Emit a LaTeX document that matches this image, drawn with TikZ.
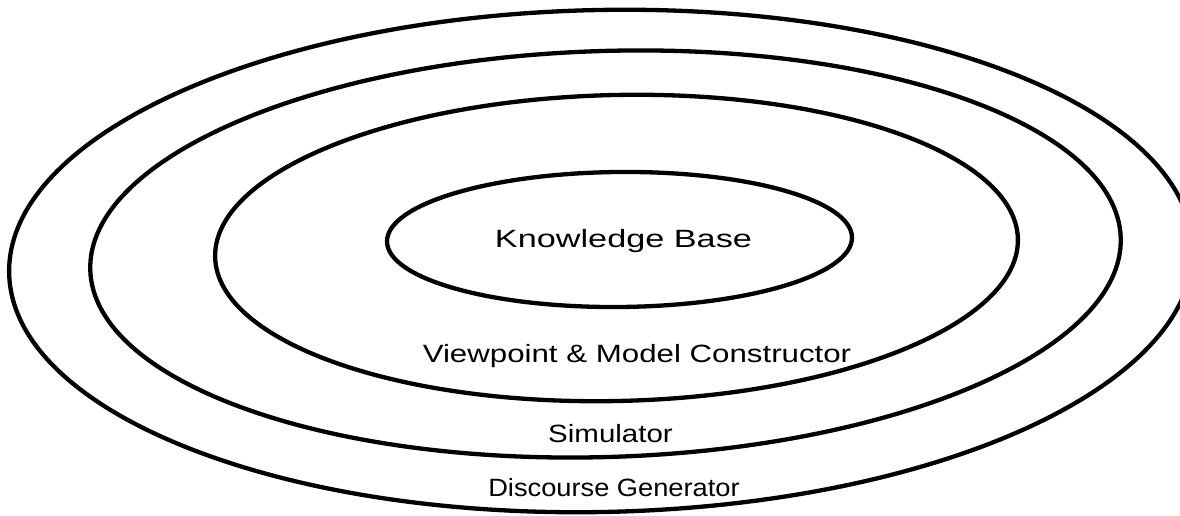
\documentclass[tikz,border=0pt]{standalone}
\usepackage{fontspec}
\setmainfont{Liberation Sans}
\newcommand\widetext[2]{\scalebox{#1}[1]{#2}}
\begin{document}
\begin{tikzpicture}[x=1pt,y=1pt,
  ring/.style={line width=4.3pt, black},
  lbl/.style={inner sep=0pt, anchor=base, font=\fontsize{25}{27}\selectfont}]
\useasboundingbox (0,0) rectangle (1180,516);
% outer ring: Discourse Generator
\draw[ring, rotate around={1.2:(601,255)}] (601,255) ellipse [x radius=592, y radius=251];
% second ring: Simulator
\draw[ring, rotate around={1.8:(605.5,262)}] (605.5,262) ellipse [x radius=515.5, y radius=203];
% third ring: Viewpoint & Model Constructor
\draw[ring, rotate around={1.3:(616.5,268)}] (616.5,268) ellipse [x radius=401.5, y radius=153];
% inner ring: Knowledge Base
\draw[ring, rotate around={0.5:(619.5,276.5)}] (619.5,276.5) ellipse [x radius=232.5, y radius=67.5];
\node[lbl] (kb) at (623.5,268) {\widetext{1.37}{Knowledge Base}};
\node[lbl] (vmc) at (637,153) {\widetext{1.25}{Viewpoint \& Model Constructor}};
\node[lbl] (sim) at (610.5,73) {\widetext{1.18}{Simulator}};
\node[lbl] (dg) at (614,19) {\widetext{1.09}{Discourse Generator}};
\end{tikzpicture}
\end{document}
